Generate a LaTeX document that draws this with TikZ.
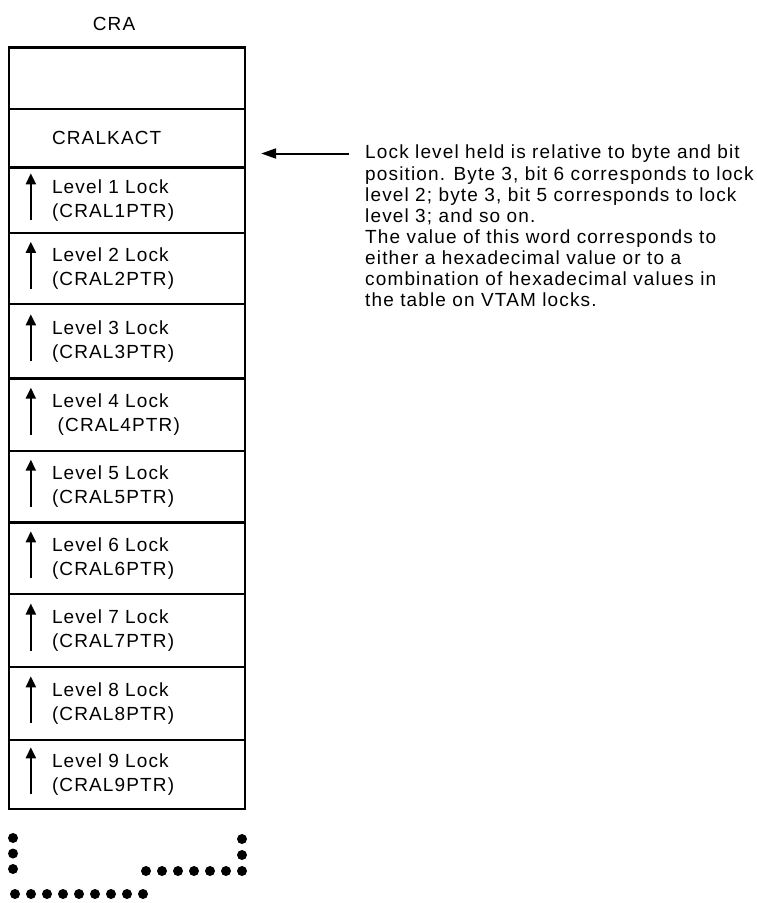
\documentclass[tikz,border=0pt]{standalone}
\usepackage{fontspec}
\setmainfont{Liberation Sans}[LetterSpace=6]
\usetikzlibrary{arrows.meta,positioning}

\begin{document}
\begin{tikzpicture}[x=1pt, y=-1pt,
  word/.style={
    rectangle, draw=black, line width=2.3pt, inner xsep=43pt, inner ysep=0pt,
    text width=150pt, align=left, font=\fontsize{19}{24}\selectfont
  },
  note/.style={
    inner sep=0pt, align=left, font=\fontsize{19}{21.1}\selectfont
  },
  pointer/.style={-{Triangle[length=11pt,width=10pt]}, line width=2.2pt},
  leader/.style={-{Triangle[length=15pt,width=10pt]}, line width=2pt},
  dotrow/.style={line width=10pt, line cap=round, dash pattern=on 0pt off 16pt}
]
\useasboundingbox (0,0) rectangle (757,903);

\node[font=\fontsize{19}{21}\selectfont] (cra) at (114,24) {CRA};

\node[word, minimum height=61.7pt] (spare) at (127,78.2) {};
\node[word, minimum height=58.3pt] (act) at (127,138.2) {CRALKACT};

\node[word, minimum height=66pt] (l1) at (127,200.3) {Level 1 Lock\\(CRAL1PTR)};
\node[word, minimum height=71pt] (l2) at (127,268.8) {Level 2 Lock\\(CRAL2PTR)};
\node[word, minimum height=74pt] (l3) at (127,341.3) {Level 3 Lock\\(CRAL3PTR)};
\node[word, minimum height=72.7pt] (l4) at (127,414.7) {Level 4 Lock\\\hspace*{0.3em}(CRAL4PTR)};
\node[word, minimum height=71.3pt] (l5) at (127,486.7) {Level 5 Lock\\(CRAL5PTR)};
\node[word, minimum height=72pt] (l6) at (127,558.3) {Level 6 Lock\\(CRAL6PTR)};
\node[word, minimum height=72.4pt] (l7) at (127,630.5) {Level 7 Lock\\(CRAL7PTR)};
\node[word, minimum height=73.3pt] (l8) at (127,703.3) {Level 8 Lock\\(CRAL8PTR)};
\node[word, minimum height=68.7pt] (l9) at (127,774.3) {Level 9 Lock\\(CRAL9PTR)};

% pointers inside the lock words
\draw[pointer] ([xshift=23pt,yshift=-20pt]l1.west) -- ([xshift=23pt,yshift=27pt]l1.west);
\draw[pointer] ([xshift=23pt,yshift=-20pt]l2.west) -- ([xshift=23pt,yshift=27pt]l2.west);
\draw[pointer] ([xshift=23pt,yshift=-20pt]l3.west) -- ([xshift=23pt,yshift=27pt]l3.west);
\draw[pointer] ([xshift=23pt,yshift=-20pt]l4.west) -- ([xshift=23pt,yshift=27pt]l4.west);
\draw[pointer] ([xshift=23pt,yshift=-20pt]l5.west) -- ([xshift=23pt,yshift=27pt]l5.west);
\draw[pointer] ([xshift=23pt,yshift=-20pt]l6.west) -- ([xshift=23pt,yshift=27pt]l6.west);
\draw[pointer] ([xshift=23pt,yshift=-20pt]l7.west) -- ([xshift=23pt,yshift=27pt]l7.west);
\draw[pointer] ([xshift=23pt,yshift=-20pt]l8.west) -- ([xshift=23pt,yshift=27pt]l8.west);
\draw[pointer] ([xshift=23pt,yshift=-20pt]l9.west) -- ([xshift=23pt,yshift=27pt]l9.west);

\node[note, anchor=north west] (lvlnote) at (365,145) {
Lock level held is relative to byte and bit\\
position. Byte 3, bit 6 corresponds to lock\\
level 2; byte 3, bit 5 corresponds to lock\\
level 3; and so on.\\
The value of this word corresponds to\\
either a hexadecimal value or to a\\
combination of hexadecimal values in\\
the table on VTAM locks.};

\draw[leader, shorten <=16pt, shorten >=15pt]
  ([yshift=-8.5pt]lvlnote.north west) -- ([yshift=-8.5pt]lvlnote.north west -| act.east);

% continuation marks below the table
\draw[dotrow, dash pattern=on 0pt off 15.5pt] (13,838) -- (13,870);
\draw[dotrow] (242,839) -- (242,871) -- (145.5,871);
\draw[dotrow] (15,894) -- (143.5,894);
\end{tikzpicture}
\end{document}
